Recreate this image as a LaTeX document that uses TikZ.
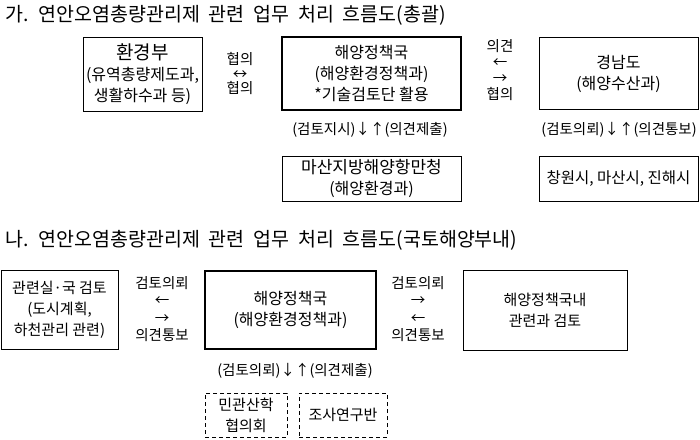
\documentclass[tikz,border=0pt]{standalone}
\usepackage{fontspec}
\setmainfont{Noto Sans CJK KR}
\newfontfamily\ttlfont[WordSpace=2]{Noto Sans CJK KR}
\usetikzlibrary{positioning}

\begin{document}
\begin{tikzpicture}[
        x=1pt, y=-1pt,
        box/.style={draw, line width=0.8pt, align=center, inner sep=1pt, font=\fontsize{16}{21}\selectfont},
        mainbox/.style={box, line width=2.4pt},
        subbox/.style={box, dashed, dash pattern=on 4pt off 3pt, font=\fontsize{15}{21}\selectfont},
        lowbox/.style={box, font=\fontsize{15}{21}\selectfont},
        flow/.style={align=center, inner sep=0pt, font=\fontsize{14.5}{#1}\selectfont},
        heading/.style={anchor=west, inner sep=0pt, font=\ttlfont\fontsize{19.5}{24}\selectfont}
    ]
        \useasboundingbox (0,0) rectangle (700,439);

        % Overall flow
        \node[heading] (head1) at (5,15) {가. 연안오염총량관리제 관련 업무 처리 흐름도(총괄)};

        \node[box, minimum width=119pt, minimum height=74pt] (moe) at (142.5,74)
            {{\fontsize{19}{21}\selectfont 환경부}\\(유역총량제도과,\\생활하수과 등)};
        \node[mainbox, minimum width=179pt, minimum height=73pt] (policy) at (371.5,73.5)
            {해양정책국\\(해양환경정책과)\\*기술검토단 활용};
        \node[box, minimum width=159pt, minimum height=72pt] (gyeongnam) at (618.5,73.5)
            {경남도\\(해양수산과)};
        \node[flow=14.5pt] (coop) at (240,74) {협의\\↔\\협의};
        \node[flow=16pt] (opinion) at (500,70) {의견\\←\\→\\협의};

        \node[flow=16pt] (order) at (370,130) {(검토지시)↓↑(의견제출)};
        \node[flow=16pt] (request) at (619,130) {(검토의뢰)↓↑(의견통보)};

        \node[box, minimum width=179pt, minimum height=45pt] (masan) at (371.5,178.5)
            {{\fontsize{17}{21}\selectfont 마산지방해양항만청}\\(해양환경과)};
        \node[box, minimum width=159pt, minimum height=45pt, font=\fontsize{15.5}{21}\selectfont] (cities) at (618.5,178.5)
            {창원시, 마산시, 진해시};

        % Inside the ministry
        \node[heading] (head2) at (5,240) {나. 연안오염총량관리제 관련 업무 처리 흐름도(국토해양부내)};

        \node[lowbox, minimum width=117pt, minimum height=79pt] (related) at (59.5,309.5)
            {관련실·국 검토\\(도시계획,\\하천관리 관련)};
        \node[mainbox, minimum width=171pt, minimum height=78pt] (policy2) at (290.5,310)
            {해양정책국\\(해양환경정책과)};
        \node[lowbox, minimum width=164pt, minimum height=80pt] (inner) at (545,310)
            {해양정책국내\\관련과 검토};
        \node[flow=17.5pt] (reqleft) at (162,309) {검토의뢰\\←\\→\\의견통보};
        \node[flow=17.5pt] (reqright) at (418,309) {검토의뢰\\→\\←\\의견통보};

        \node[flow=16pt] (review) at (295,371) {(검토의뢰)↓↑(의견제출)};
        \node[subbox, minimum width=82pt, minimum height=44pt] (council) at (246,415)
            {민관산학\\협의회};
        \node[subbox, minimum width=88pt, minimum height=44pt] (research) at (343,415)
            {조사연구반};

    \end{tikzpicture}
\end{document}
